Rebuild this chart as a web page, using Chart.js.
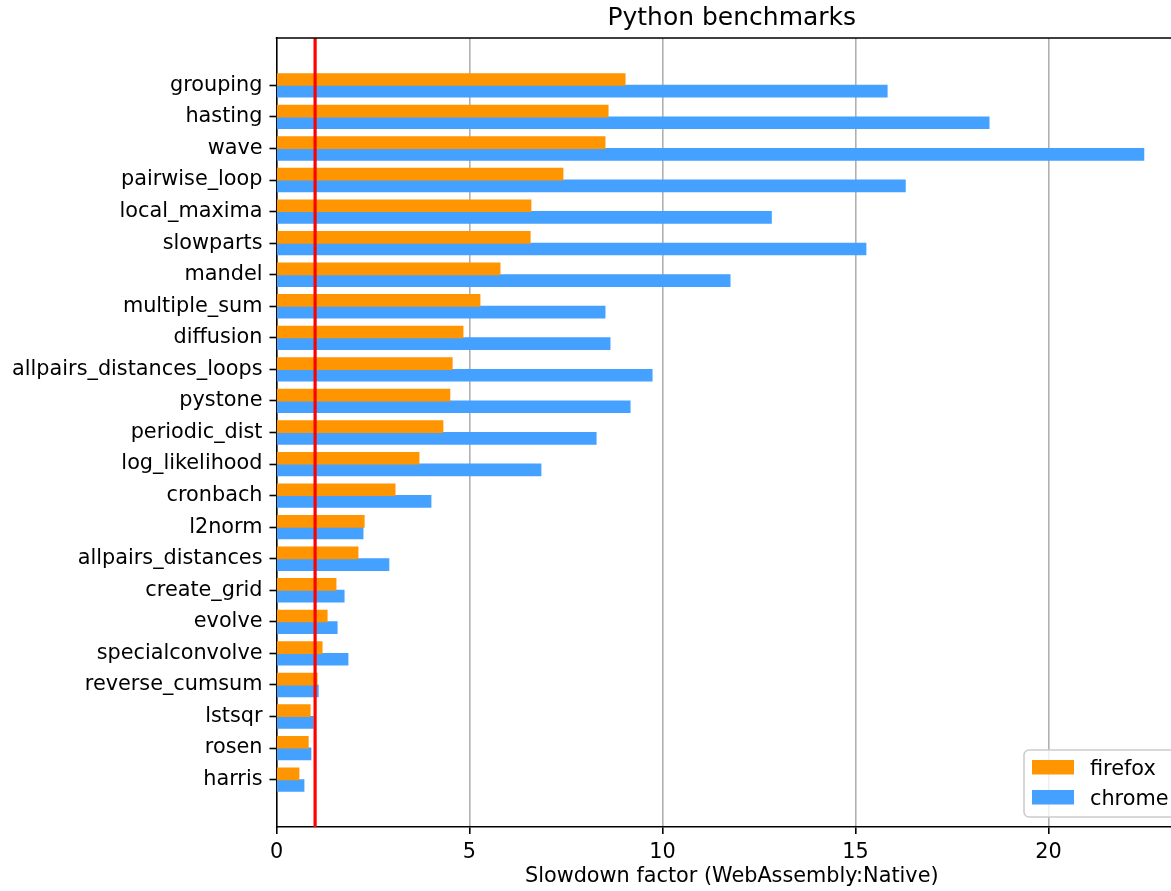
<!DOCTYPE html>
<html>
<head>
<meta charset="utf-8">
<title>Python benchmarks</title>
<style>
  html, body { margin: 0; padding: 0; background: #fff; overflow: hidden; }
  #wrap { width: 1190px; height: 891px; }
</style>
<script src="https://cdn.jsdelivr.net/npm/chart.js@4.4.1/dist/chart.umd.min.js"></script>
</head>
<body>
<div id="wrap"><canvas id="chart" width="1190" height="891"></canvas></div>
<script>
// Benchmark names, top to bottom
const categories = [
  'grouping', 'hasting', 'wave', 'pairwise_loop', 'local_maxima', 'slowparts',
  'mandel', 'multiple_sum', 'diffusion', 'allpairs_distances_loops', 'pystone',
  'periodic_dist', 'log_likelihood', 'cronbach', 'l2norm', 'allpairs_distances',
  'create_grid', 'evolve', 'specialconvolve', 'reverse_cumsum', 'lstsqr', 'rosen', 'harris'
];

// Slowdown factor (WebAssembly:Native) per browser
const firefox = [
  9.03, 8.59, 8.51, 7.42, 6.59, 6.57,
  5.79, 5.27, 4.83, 4.55, 4.49,
  4.31, 3.69, 3.07, 2.27, 2.11,
  1.54, 1.31, 1.18, 1.05, 0.87, 0.82, 0.58
];
const chrome = [
  15.82, 18.46, 22.47, 16.29, 12.82, 15.27,
  11.75, 8.51, 8.64, 9.73, 9.16,
  8.28, 6.85, 4.00, 2.24, 2.91,
  1.75, 1.57, 1.85, 1.08, 0.95, 0.89, 0.71
];

const xTicks = [0, 5, 10, 15, 20];
const xMax = 23.59;
const parity = 1;           // native speed reference line

const FONT = 'DejaVu Sans';
const ORANGE = '#ff9500';
const BLUE = '#45a1ff';

const toPoints = (vals) => vals.map((v, i) => ({ x: v, y: i }));

// Reference line at x = parity, axes frame top edge, title, axis label and legend
const decorations = {
  id: 'decorations',
  afterDatasetsDraw(chart) {
    const { ctx, chartArea: a, scales } = chart;
    const px = scales.x.getPixelForValue(parity);
    ctx.save();
    ctx.strokeStyle = '#ff0000';
    ctx.lineWidth = 3.2;
    ctx.beginPath();
    ctx.moveTo(px, a.top);
    ctx.lineTo(px, a.bottom);
    ctx.stroke();
    ctx.restore();
  },
  afterDraw(chart) {
    const { ctx, chartArea: a } = chart;
    ctx.save();
    // top and right spines
    ctx.strokeStyle = '#000';
    ctx.lineWidth = 1.6;
    ctx.beginPath();
    ctx.moveTo(a.left - 0.8, a.top);
    ctx.lineTo(a.right + 0.8, a.top);
    ctx.moveTo(a.right, a.top);
    ctx.lineTo(a.right, a.bottom);
    ctx.stroke();

    const cx = (a.left + a.right) / 2;
    ctx.fillStyle = '#000';
    ctx.textAlign = 'center';
    ctx.textBaseline = 'alphabetic';
    ctx.font = `25px "${FONT}"`;
    ctx.fillText('Python benchmarks', cx, 25);
    ctx.font = `20.8px "${FONT}"`;
    ctx.fillText('Slowdown factor (WebAssembly:Native)', cx, 882);

    // legend
    const bx = 1024, by = 750, bw = 156, bh = 67, r = 5;
    ctx.beginPath();
    ctx.moveTo(bx + r, by);
    ctx.lineTo(bx + bw - r, by);
    ctx.arcTo(bx + bw, by, bx + bw, by + r, r);
    ctx.lineTo(bx + bw, by + bh - r);
    ctx.arcTo(bx + bw, by + bh, bx + bw - r, by + bh, r);
    ctx.lineTo(bx + r, by + bh);
    ctx.arcTo(bx, by + bh, bx, by + bh - r, r);
    ctx.lineTo(bx, by + r);
    ctx.arcTo(bx, by, bx + r, by, r);
    ctx.closePath();
    ctx.fillStyle = 'rgba(255,255,255,0.8)';
    ctx.fill();
    ctx.strokeStyle = '#cccccc';
    ctx.lineWidth = 1.6;
    ctx.stroke();

    ctx.textAlign = 'left';
    ctx.font = `20.8px "${FONT}"`;
    chart.data.datasets.forEach((ds, k) => {
      const sy = 760 + k * 30;
      ctx.fillStyle = ds.backgroundColor;
      ctx.fillRect(1032, sy, 42, 14.5);
      ctx.fillStyle = '#000';
      ctx.fillText(ds.label, 1090, sy + 14.5);
    });
    ctx.restore();
  }
};

new Chart(document.getElementById('chart'), {
  type: 'bar',
  data: {
    datasets: [
      { label: 'firefox', data: toPoints(firefox), backgroundColor: ORANGE },
      { label: 'chrome', data: toPoints(chrome), backgroundColor: BLUE }
    ]
  },
  options: {
    indexAxis: 'y',
    responsive: false,
    animation: false,
    devicePixelRatio: 1,
    layout: { padding: { top: 38, right: 3, left: 0, bottom: 0 } },
    datasets: { bar: { barPercentage: 1, categoryPercentage: 0.74, borderWidth: 0, inflateAmount: 0.5 } },
    plugins: { legend: { display: false }, title: { display: false }, tooltip: { enabled: false } },
    scales: {
      x: {
        type: 'linear',
        position: 'bottom',
        min: 0,
        max: xMax,
        z: 1,
        afterFit(scale) { scale.height = 64; },
        afterBuildTicks(scale) { scale.ticks = xTicks.map(v => ({ value: v })); },
        grid: {
          color: (c) => (c.tick && c.tick.value === 0) ? 'rgba(0,0,0,0)' : '#b0b0b0',
          lineWidth: 1.6,
          tickColor: '#000',
          tickLength: 7,
          tickWidth: 1.6
        },
        border: { color: '#000', width: 1.6 },
        ticks: { color: '#000', font: { family: FONT, size: 20.8 }, padding: 6, maxRotation: 0 }
      },
      y: {
        type: 'linear',
        reverse: true,
        offset: false,
        min: -1.5,
        max: categories.length + 0.5,
        afterFit(scale) { scale.width = 276.5; },
        afterBuildTicks(scale) { scale.ticks = categories.map((_, i) => ({ value: i })); },
        grid: {
          offset: false,
          drawOnChartArea: false,
          color: '#000',
          tickColor: '#000',
          tickLength: 7,
          tickWidth: 1.6
        },
        border: { color: '#000', width: 1.6 },
        ticks: {
          color: '#000',
          font: { family: FONT, size: 20.8 },
          padding: 7,
          autoSkip: false,
          callback: (v) => categories[v]
        }
      }
    }
  },
  plugins: [decorations]
});
</script>
</body>
</html>
